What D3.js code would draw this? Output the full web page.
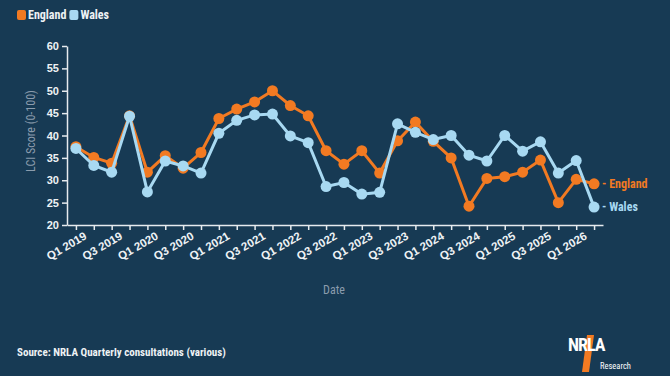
<!DOCTYPE html>
<html>
<head>
<meta charset="UTF-8">
<script src="https://cdn.jsdelivr.net/npm/d3@7"></script>
<style>
    body { margin: 0; background: #173a54; }
    svg { display: block; font-family: 'Roboto Condensed', 'Liberation Sans Narrow', 'DejaVu Sans Condensed', sans-serif; }
</style>
</head>
<body>
<svg id="chart" width="670" height="376"></svg>
<script>
// quarters Q1 2019 .. Q2 2026
var quarters = [];
for (var yr = 2019; yr <= 2026; yr++) {
    for (var q = 1; q <= 4; q++) {
        if (yr === 2026 && q > 2) break;
        quarters.push("Q" + q + " " + yr);
    }
}

var england = [37.5, 35.1, 33.8, 44.4, 31.8, 35.5, 32.7, 36.2, 43.8, 45.9,
               47.5, 50.0, 46.7, 44.4, 36.6, 33.6, 36.6, 31.6, 38.8, 43.0,
               38.7, 35.0, 24.2, 30.4, 30.8, 31.8, 34.5, 25.0, 30.2, 29.2];
var wales   = [37.1, 33.3, 31.8, 44.3, 27.4, 34.3, 33.2, 31.6, 40.5, 43.4,
               44.6, 44.8, 39.9, 38.4, 28.6, 29.5, 26.9, 27.3, 42.6, 40.7,
               39.1, 40.0, 35.6, 34.3, 40.0, 36.5, 38.6, 31.6, 34.4, 24.0];

var series = [
    { name: "England", values: england, color: "#f27a22" },
    { name: "Wales", values: wales, color: "#a8d9f2" }
];

var yTicks = [20, 25, 30, 35, 40, 45, 50, 55, 60];

var svg = d3.select("#chart");
var mLeft = 67, mRight = 603, mTop = 46, mBottom = 225;

var x = d3.scalePoint().domain(quarters).range([mLeft, mRight]).padding(0.5);
var y = d3.scaleLinear().domain([20, 60]).range([mBottom, mTop]);

// y axis
var yAxis = svg.append("g")
    .attr("transform", "translate(" + mLeft + ",0)")
    .call(d3.axisLeft(y).tickValues(yTicks).tickSize(5).tickSizeOuter(0).tickPadding(3));
yAxis.select(".domain").attr("stroke", "#e6ebef").attr("stroke-width", 1.5);
yAxis.selectAll(".tick line").attr("stroke", "#e6ebef").attr("stroke-width", 1.5);
yAxis.selectAll("text").attr("fill", "#eef2f5").style("font-size", "11px").style("font-weight", "bold");

// x axis
var xAxis = svg.append("g")
    .attr("transform", "translate(0," + mBottom + ")")
    .call(d3.axisBottom(x).tickSize(5).tickSizeOuter(0)
        .tickFormat(function (d, i) { return i % 2 === 0 ? d : ""; }));
xAxis.select(".domain").attr("stroke", "#e6ebef").attr("stroke-width", 1.5);
xAxis.selectAll(".tick line").attr("stroke", "#e6ebef").attr("stroke-width", 1.5);
xAxis.selectAll("text")
    .attr("fill", "#eef2f5")
    .style("font-size", "11.5px")
    .style("font-weight", "bold")
    .attr("text-anchor", "end")
    .attr("x", 3)
    .attr("y", 9)
    .attr("dy", "0.71em")
    .attr("transform", "rotate(-30)");

// axis titles
svg.append("text")
    .attr("transform", "translate(35,131) rotate(-90)")
    .attr("text-anchor", "middle")
    .attr("fill", "#8b9cad")
    .style("font-size", "12px")
    .text("LCI Score (0-100)");

svg.append("text")
    .attr("x", 334).attr("y", 294)
    .attr("text-anchor", "middle")
    .attr("fill", "#8b9cad")
    .style("font-size", "12px")
    .text("Date");

// lines and points
var line = d3.line()
    .x(function (d, i) { return x(quarters[i]); })
    .y(function (d) { return y(d); });

series.forEach(function (s) {
    var g = svg.append("g");
    g.append("path")
        .datum(s.values)
        .attr("d", line)
        .attr("fill", "none")
        .attr("stroke", s.color)
        .attr("stroke-width", 3);
    g.selectAll("circle")
        .data(s.values)
        .enter()
        .append("circle")
        .attr("cx", function (d, i) { return x(quarters[i]); })
        .attr("cy", function (d) { return y(d); })
        .attr("r", 5.5)
        .attr("fill", s.color);
    var last = s.values.length - 1;
    g.append("text")
        .attr("x", x(quarters[last]) + 8)
        .attr("y", y(s.values[last]))
        .attr("dy", "0.35em")
        .attr("fill", s.color)
        .style("font-size", "12px")
        .style("font-weight", "bold")
        .text("- " + s.name);
});

// legend
var legend = svg.append("g");
var lx = 17;
series.forEach(function (s) {
    legend.append("rect")
        .attr("x", lx).attr("y", 10)
        .attr("width", 9).attr("height", 10)
        .attr("rx", 2)
        .attr("fill", s.color);
    var t = legend.append("text")
        .attr("x", lx + 11).attr("y", 15)
        .attr("dy", "0.35em")
        .attr("fill", "#eef2f5")
        .style("font-size", "12px")
        .style("font-weight", "bold")
        .text(s.name);
    lx += 11 + t.node().getComputedTextLength() + 3;
});

// source
svg.append("text")
    .attr("x", 17).attr("y", 356)
    .attr("fill", "#eef2f5")
    .style("font-size", "11px")
    .style("font-weight", "bold")
    .text("Source: NRLA Quarterly consultations (various)");

// logo
var logo = svg.append("g");
logo.append("path")
    .attr("d", "M587,335 L594,335 L589,372 L582,372 Z")
    .attr("fill", "#f27a22");
logo.append("text")
    .attr("x", 568).attr("y", 351)
    .attr("fill", "#ffffff")
    .style("font-size", "18px")
    .style("font-weight", "bold")
    .style("letter-spacing", "-1px")
    .text("NRLA");
logo.append("text")
    .attr("x", 600).attr("y", 369)
    .attr("fill", "#ffffff")
    .style("font-size", "8.5px")
    .text("Research");
</script>
</body>
</html>
